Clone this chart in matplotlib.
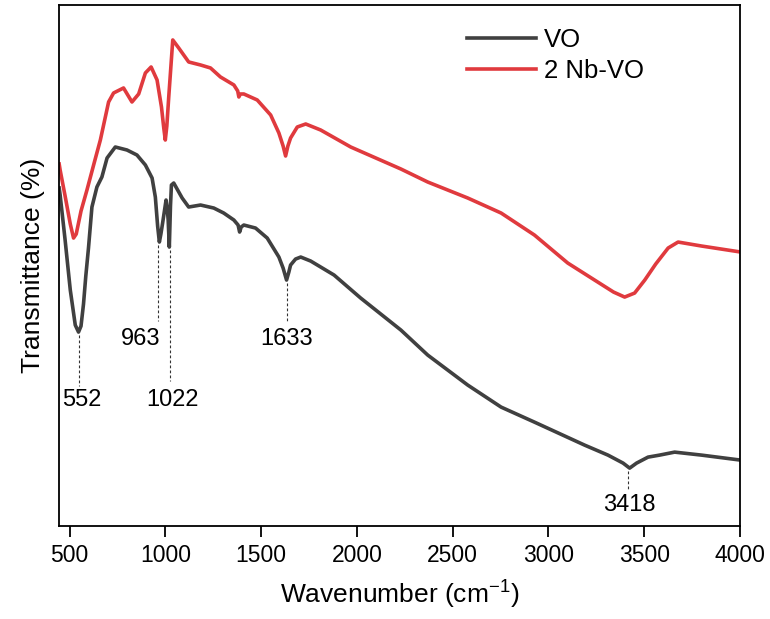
import numpy as np
import matplotlib
matplotlib.use("Agg")
import matplotlib.pyplot as plt

plt.rcParams['font.family'] = ['Liberation Sans', 'DejaVu Sans']
plt.rcParams['mathtext.fontset'] = 'custom'
plt.rcParams['mathtext.rm'] = 'Liberation Sans'
plt.rcParams['mathtext.default'] = 'regular'

# FTIR spectra, transmittance in arbitrary units
wn_vo = [446, 451, 477, 504, 530, 547, 560, 573, 585, 599, 617, 643, 669, 696, 739, 800,
         852, 896, 931, 948, 960, 969, 977, 986, 1004, 1010, 1015, 1021, 1027, 1032, 1044,
         1088, 1122, 1184, 1253, 1305, 1358, 1380, 1388, 1396, 1410, 1471, 1532, 1593,
         1615, 1633, 1645, 1654, 1680, 1707, 1759, 1881, 2020, 2230, 2370, 2579, 2753,
         2927, 3189, 3311, 3390, 3424, 3460, 3520, 3580, 3659, 3800, 4004]
t_vo = [338, 331, 286, 236, 201, 194, 200, 222, 250, 278, 319, 339, 349, 368, 379, 376,
        371, 361, 348, 329, 300, 284, 292, 303, 326, 318, 306, 279, 320, 341, 343,
        328, 319, 321, 318, 313, 306, 301, 294, 299, 301, 298, 288, 269,
        258, 246, 254, 261, 267, 269, 265, 251, 228, 196, 171, 141, 119,
        104, 81, 71, 63, 58, 63, 69, 71, 74, 71, 66]

wn_nb = [446, 451, 477, 504, 521, 535, 560, 591, 630, 661, 704, 730, 782, 826, 861,
         896, 926, 957, 980, 992, 1000, 1008, 1018, 1039, 1070, 1122, 1184, 1236, 1288,
         1358, 1378, 1384, 1392, 1410, 1480, 1550, 1593, 1615, 1628, 1640, 1654, 1689,
         1733, 1811, 1968, 2230, 2370, 2579, 2753, 2927, 3101, 3241, 3340, 3398, 3450,
         3503, 3560, 3625, 3677, 3800, 4004]
t_nb = [362, 356, 330, 302, 288, 292, 315, 336, 364, 386, 424, 433, 438, 424, 432,
        453, 459, 446, 419, 398, 386, 400, 429, 486, 478, 464, 461, 458, 449,
        441, 435, 429, 432, 432, 426, 411, 393, 380, 370, 380, 388, 399,
        402, 396, 379, 357, 344, 328, 313, 291, 263, 246, 234, 229, 233,
        246, 262, 278, 284, 280, 274]

peaks = [552, 963, 1022, 1633, 3418]

fig, ax = plt.subplots(figsize=(7.7, 6.19), dpi=100)
fig.subplots_adjust(left=0.0766, right=0.961, bottom=0.150, top=0.992)

ax.plot(wn_vo, t_vo, color='#404040', lw=2.6, label='VO', solid_joinstyle='round')
ax.plot(wn_nb, t_nb, color='#e03a3e', lw=2.6, label='2 Nb-VO', solid_joinstyle='round')

# dashed drop lines and peak labels: (peak, line top, line bottom, label x, label y)
marks = [(peaks[0], 191, 140, 565, 126),
         (peaks[1], 281, 205, 870, 187),
         (peaks[2], 276, 145, 1035, 126),
         (peaks[3], 243, 205, 1633, 187),
         (peaks[4], 55, 37, 3420, 21)]
for peak, top, bot, lx, ly in marks:
    ax.plot([peak, peak], [top, bot], ls=(0, (2.5, 2)), color='#333333', lw=0.8)
    ax.text(lx, ly, str(peak), ha='center', va='center', fontsize=17)

ax.set_xlim(445, 4000)
ax.set_ylim(0, 521)
ax.set_xticks([500, 1000, 1500, 2000, 2500, 3000, 3500, 4000])
ax.set_yticks([])
ax.tick_params(axis='x', direction='out', length=8, width=1.3, labelsize=16.5, pad=5)
for s in ax.spines.values():
    s.set_linewidth(1.3)

ax.set_xlabel('Wavenumber (cm$^{-1}$)', fontsize=19, labelpad=8)
ax.set_ylabel('Transmittance (%)', fontsize=19, labelpad=10)

ax.legend(loc='upper left', bbox_to_anchor=(0.565, 1.0), frameon=False, fontsize=18.5,
          handlelength=2.7, handletextpad=0.3, labelspacing=0.25)

plt.savefig('out.png', dpi=100)
